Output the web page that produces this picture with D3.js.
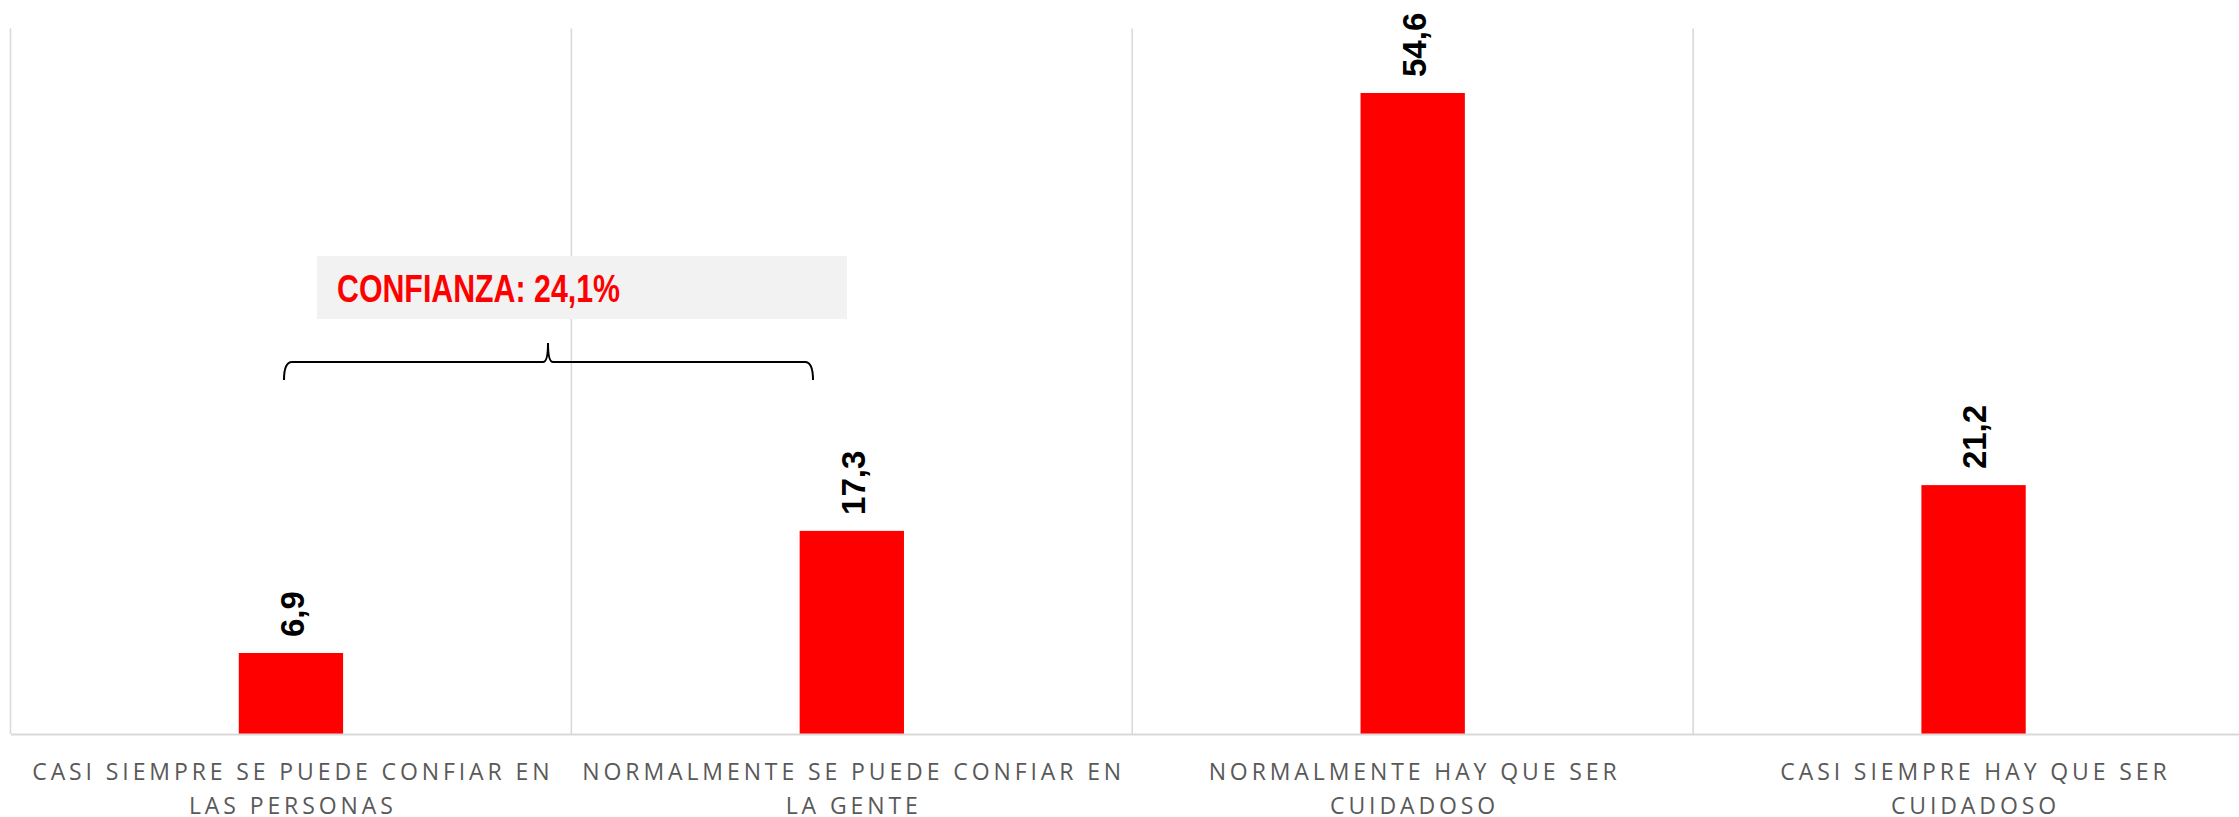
<!DOCTYPE html>
<html>
<head>
<meta charset="utf-8">
<script src="https://cdn.jsdelivr.net/npm/d3@7"></script>
<style>
  html, body { margin: 0; padding: 0; background: #fff; }
  svg { display: block; }
</style>
</head>
<body>
<svg id="chart" width="2239" height="817"></svg>
<script>
// ---- data ----
const categories = [
  "CASI SIEMPRE SE PUEDE CONFIAR EN LAS PERSONAS",
  "NORMALMENTE SE PUEDE CONFIAR EN LA GENTE",
  "NORMALMENTE HAY QUE SER CUIDADOSO",
  "CASI SIEMPRE HAY QUE SER CUIDADOSO"
];
const categoryLines = [
  ["CASI SIEMPRE SE PUEDE CONFIAR EN", "LAS PERSONAS"],
  ["NORMALMENTE SE PUEDE CONFIAR EN", "LA GENTE"],
  ["NORMALMENTE HAY QUE SER", "CUIDADOSO"],
  ["CASI SIEMPRE HAY QUE SER", "CUIDADOSO"]
];
const values = [6.9, 17.3, 54.6, 21.2];
const valueLabels = ["6,9", "17,3", "54,6", "21,2"];
const yDomain = [0, 60];
const annotationText = "CONFIANZA: 24,1%";

// ---- layout ----
const svg = d3.select("#chart");
const plot = { left: 10.5, right: 2254, top: 29.6, bottom: 734 };

const x = d3.scaleBand().domain(categories).range([plot.left, plot.right]).padding(0);
const y = d3.scaleLinear().domain(yDomain).range([plot.bottom, plot.top]);
const barW = x.bandwidth() * 0.186;

// vertical category gridlines (boundaries)
const bounds = categories.map(c => x(c)).concat([x(categories[categories.length - 1]) + x.bandwidth()]);
svg.append("g").selectAll("line").data(bounds).join("line")
  .attr("x1", d => d).attr("x2", d => d)
  .attr("y1", y(yDomain[1]) - 1).attr("y2", y(0))
  .attr("stroke", "#d9d9d9").attr("stroke-width", 1.6);

// bars
svg.append("g").selectAll("rect").data(values).join("rect")
  .attr("x", (d, i) => x(categories[i]) + x.bandwidth() / 2 - barW / 2)
  .attr("width", barW)
  .attr("y", d => y(d))
  .attr("height", d => y(0) - y(d))
  .attr("fill", "#ff0000");

// baseline axis
const xAxis = d3.axisBottom(x).tickSize(0).tickFormat("");
const axG = svg.append("g").attr("transform", `translate(0,${y(0)})`).call(xAxis);
axG.select(".domain").attr("stroke", "#d9d9d9").attr("stroke-width", 2);

// value labels (rotated)
svg.append("g").selectAll("text").data(values).join("text")
  .attr("transform", (d, i) => `translate(${x(categories[i]) + x.bandwidth() / 2 + 1},${y(d) - 16}) rotate(-90)`)
  .attr("dy", "0.36em")
  .attr("text-anchor", "start")
  .attr("font-family", "'Liberation Sans', Arial, sans-serif")
  .attr("font-weight", "bold")
  .attr("font-size", 33)
  .attr("fill", "#000")
  .text((d, i) => valueLabels[i]);

// category labels
const catG = svg.append("g");
categories.forEach((c, i) => {
  const t = catG.append("text")
    .attr("x", x(c) + x.bandwidth() / 2)
    .attr("y", 780)
    .attr("text-anchor", "middle")
    .attr("font-family", "'Open Sans', sans-serif")
    .attr("font-size", 23)
    .attr("letter-spacing", "3.9px")
    .attr("fill", "#595959");
  categoryLines[i].forEach((ln, j) => {
    t.append("tspan")
      .attr("x", x(c) + x.bandwidth() / 2 + 1.9)
      .attr("dy", j === 0 ? 0 : 34)
      .text(ln);
  });
});

// annotation box
const ann = svg.append("g");
ann.append("rect")
  .attr("x", 317).attr("y", 256).attr("width", 530).attr("height", 63)
  .attr("fill", "#f2f2f2");
ann.append("text")
  .attr("x", 337).attr("y", 302)
  .attr("font-family", "'Liberation Sans Narrow', 'Arial Narrow', 'Liberation Sans', sans-serif")
  .attr("font-weight", "bold")
  .attr("font-size", 38)
  .attr("fill", "#ff0000")
  .attr("textLength", 283)
  .attr("lengthAdjust", "spacingAndGlyphs")
  .text(annotationText);

// brace
const bx0 = 284, bx1 = 813, bm = 548, by = 362;
const bracePath = `M${bx0},${by + 18} Q${bx0},${by} ${bx0 + 8},${by} L${bm - 5},${by} Q${bm},${by} ${bm},${by - 19} Q${bm},${by} ${bm + 5},${by} L${bx1 - 8},${by} Q${bx1},${by} ${bx1},${by + 18}`;
ann.append("path")
  .attr("d", bracePath)
  .attr("fill", "none")
  .attr("stroke", "#000")
  .attr("stroke-width", 2);
</script>
</body>
</html>
